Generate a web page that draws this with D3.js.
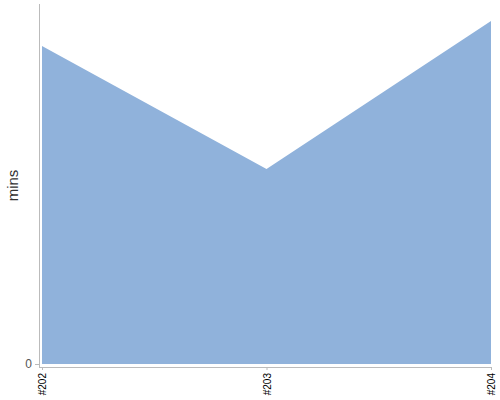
<!DOCTYPE html>
<html>
<head>
<meta charset="utf-8">
<script src="https://cdn.jsdelivr.net/npm/d3@7"></script>
<style>
  body { margin: 0; background: #fff; }
  .axis path, .axis line { stroke: #bbb; }
  .axis text { font-family: "Liberation Sans", Arial, sans-serif; }
</style>
</head>
<body>
<div id="chart"></div>
<script>
// build numbers and their duration in minutes
let builds = ["#202", "#203", "#204"];
let mins = [15.9, 9.75, 17.15];
let yMax = 18;
let yTicks = [0];

const width = 500;
const height = 400;
const marginLeft = 39;
const marginRight = 9;
const marginTop = 4;
const marginBottom = 33;

const svg = d3.select("#chart").append("svg")
    .attr("width", width)
    .attr("height", height);

const x = d3.scalePoint()
    .domain(builds)
    .range([marginLeft + 3, width - marginRight]);

const y = d3.scaleLinear()
    .domain([0, yMax])
    .range([height - marginBottom - 3, marginTop]);

const data = builds.map((b, i) => ({build: b, value: mins[i]}));

const area = d3.area()
    .x(d => x(d.build))
    .y0(y(0))
    .y1(d => y(d.value));

svg.append("path")
    .attr("fill", "#90b2db")
    .attr("d", area(data));

// x axis
const xAxis = svg.append("g")
    .attr("class", "axis")
    .attr("transform", `translate(0,${height - marginBottom})`)
    .call(d3.axisBottom(x).tickSize(3).tickSizeOuter(0));
xAxis.select(".domain").attr("d", `M${marginLeft},0.5H${width - marginRight}`);
xAxis.selectAll("text")
    .attr("font-size", 10)
    .attr("fill", "#000")
    .attr("transform", "rotate(-90)")
    .attr("text-anchor", "end")
    .attr("x", -6)
    .attr("y", 0)
    .attr("dy", "0.35em");

// y axis
const yAxis = svg.append("g")
    .attr("class", "axis")
    .attr("transform", `translate(${marginLeft},0)`)
    .call(d3.axisLeft(y).tickValues(yTicks).tickSize(4).tickSizeOuter(0));
yAxis.select(".domain").attr("d", `M0.5,${marginTop}V${height - marginBottom}`);
yAxis.selectAll("text")
    .attr("font-size", 12)
    .attr("fill", "#555");

svg.append("text")
    .attr("transform", `translate(18,${(marginTop + height - marginBottom) / 2}) rotate(-90)`)
    .attr("text-anchor", "middle")
    .attr("font-family", "Liberation Sans, Arial, sans-serif")
    .attr("font-size", 15)
    .attr("fill", "#333")
    .text("mins");
</script>
</body>
</html>
